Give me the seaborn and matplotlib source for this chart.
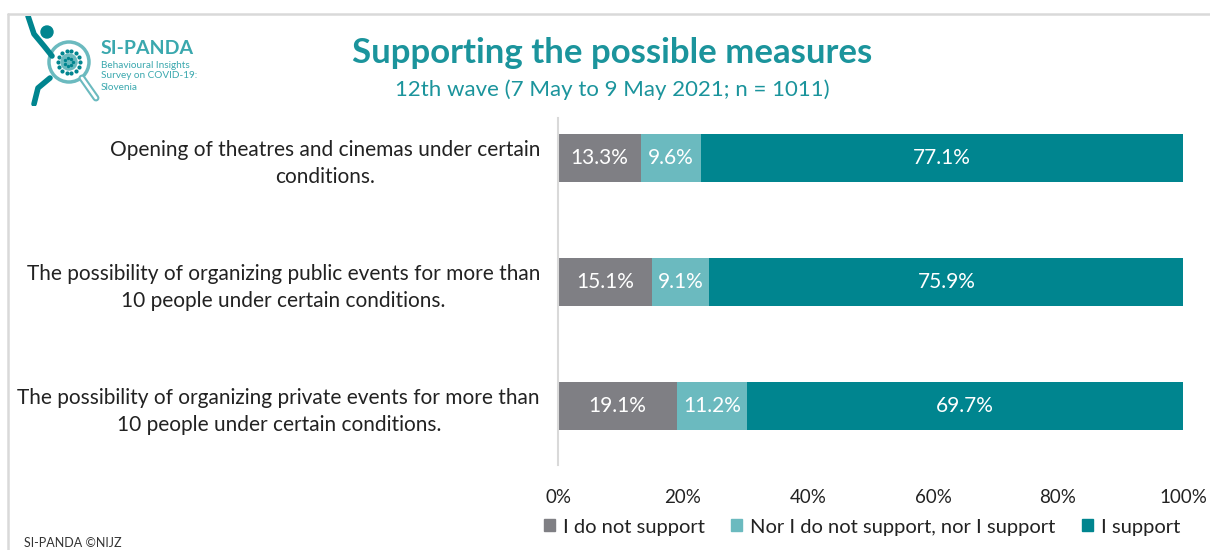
import matplotlib
matplotlib.use("Agg")
import matplotlib.pyplot as plt
from matplotlib.lines import Line2D
from matplotlib.patches import Circle, Rectangle
import numpy as np
import pandas as pd
import seaborn as sns

# Survey results (share of respondents, %)
categories = [
    "Opening of theatres and cinemas under certain\nconditions.",
    "The possibility of organizing public events for more than\n10 people under certain conditions.",
    "The possibility of organizing private events for more than\n10 people under certain conditions.",
]
series_names = ["I do not support", "Nor I do not support, nor I support", "I support"]
do_not_support = [13.3, 15.1, 19.1]
neutral = [9.6, 9.1, 11.2]
support = [77.1, 75.9, 69.7]
x_ticks = [0, 20, 40, 60, 80, 100]
x_tick_labels = ["0%", "20%", "40%", "60%", "80%", "100%"]

colors = ["#7f7f84", "#6bbabf", "#00858f"]
teal_text = "#1b949c"

sns.set_theme(style="white")
plt.rcParams["font.family"] = ["Lato", "DejaVu Sans"]

fig = plt.figure(figsize=(12.1, 5.5), dpi=100)
ax = fig.add_axes([558 / 1210, 1 - 465 / 550, (1183 - 558) / 1210, (465 - 118) / 550])

df = pd.DataFrame({
    "category": categories,
    series_names[0]: do_not_support,
    series_names[1]: neutral,
    series_names[2]: support,
})
values = df[series_names].to_numpy()
cum = np.cumsum(values, axis=1)

# Stacked bars: draw cumulative totals from the outermost segment inwards
for j in reversed(range(len(series_names))):
    sns.barplot(x=cum[:, j], y=df["category"], color=colors[j], orient="h",
                width=0.39, saturation=1, ax=ax, linewidth=0)

# Segment value labels
for i in range(len(categories)):
    left = 0.0
    for j in range(len(series_names)):
        v = values[i, j]
        ax.text(left + v / 2, i, f"{v:.1f}%", ha="center", va="center",
                color="white", fontsize=15)
        left += v

ax.set_xlim(0, 100)
ax.set_ylim(2.476, -0.323)
ax.set_xticks(x_ticks)
ax.set_xticklabels(x_tick_labels, fontsize=13.5, color="#222222")
ax.tick_params(axis="x", length=0, pad=17)
ax.tick_params(axis="y", length=0, pad=13)
ax.set_yticks(range(len(categories)))
ax.set_yticklabels(categories, fontsize=15, color="#222222")
for lab in ax.get_yticklabels():
    lab.set_multialignment("center")
    lab.set_linespacing(1.45)
ax.set_xlabel("")
ax.set_ylabel("")
for side in ["top", "right", "bottom"]:
    ax.spines[side].set_visible(False)
ax.spines["left"].set_color("#d9d9d9")
ax.spines["left"].set_linewidth(1.5)

# Legend
handles = [Rectangle((0, 0), 1, 1, color=c) for c in colors]
fig.legend(handles, series_names, loc="center", bbox_to_anchor=(862 / 1210, 1 - 527 / 550),
           ncol=3, frameon=False, fontsize=14.5, handlelength=0.55, handleheight=0.55,
           handletextpad=0.4, columnspacing=1.3, labelcolor="#222222")

# Titles
fig.text(612 / 1210, 1 - 53 / 550, "Supporting the possible measures", ha="center", va="center",
         fontsize=25, fontweight="bold", color=teal_text)
fig.text(612 / 1210, 1 - 90 / 550, "12th wave (7 May to 9 May 2021; n = 1011)", ha="center",
         va="center", fontsize=16, color=teal_text)

# Frame lines
fig.add_artist(Line2D([8 / 1210, 1], [1 - 14 / 550, 1 - 14 / 550], color="#d9d9d9", lw=1.8,
                      transform=fig.transFigure))
fig.add_artist(Line2D([8 / 1210, 8 / 1210], [0, 1 - 14 / 550], color="#d9d9d9", lw=1.8,
                      transform=fig.transFigure))

# Logo
logo = fig.add_axes([24 / 1210, 1 - 106 / 550, 80 / 1210, 90 / 550])
logo.set_xlim(0, 80)
logo.set_ylim(90, 0)
logo.set_aspect("equal")
logo.axis("off")
logo.add_patch(Circle((45, 46), 20, fill=False, ec="#6bbabf", lw=2.5))
logo.add_line(Line2D([58, 72], [62, 82], color="#6bbabf", lw=5, solid_capstyle="round"))
logo.add_line(Line2D([58, 72], [62, 82], color="white", lw=2, solid_capstyle="round"))
logo.add_patch(Circle((23, 16), 6, color="#00858f"))
logo.add_line(Line2D([4, 10, 20, 28], [0, 18, 30, 40], color="#00858f", lw=4, solid_capstyle="round"))
logo.add_line(Line2D([26, 14, 10], [62, 72, 88], color="#00858f", lw=4, solid_capstyle="round"))
ang = np.linspace(0, 2 * np.pi, 14, endpoint=False)
logo.scatter(45 + 11 * np.cos(ang), 46 + 11 * np.sin(ang), s=4, color="#00858f")
logo.add_patch(Circle((45, 46), 8, color="#6bbabf"))
logo.scatter(45 + 4 * np.cos(ang[::2]), 46 + 4 * np.sin(ang[::2]), s=2, color="#00858f")

fig.text(101 / 1210, 1 - 48 / 550, "SI-PANDA", ha="left", va="center", fontsize=14,
         fontweight="bold", color="#3aa8ae")
for k, line in enumerate(["Behavioural Insights", "Survey on COVID-19:", "Slovenia"]):
    fig.text(101 / 1210, 1 - (65 + k * 11) / 550, line, ha="left", va="center",
             fontsize=7.2, color="#3aa8ae")

fig.text(24 / 1210, 1 - 543 / 550, "SI-PANDA ©NIJZ", ha="left", va="center", fontsize=9,
         color="#333333")

fig.savefig("out.png", dpi=100, facecolor="white")
